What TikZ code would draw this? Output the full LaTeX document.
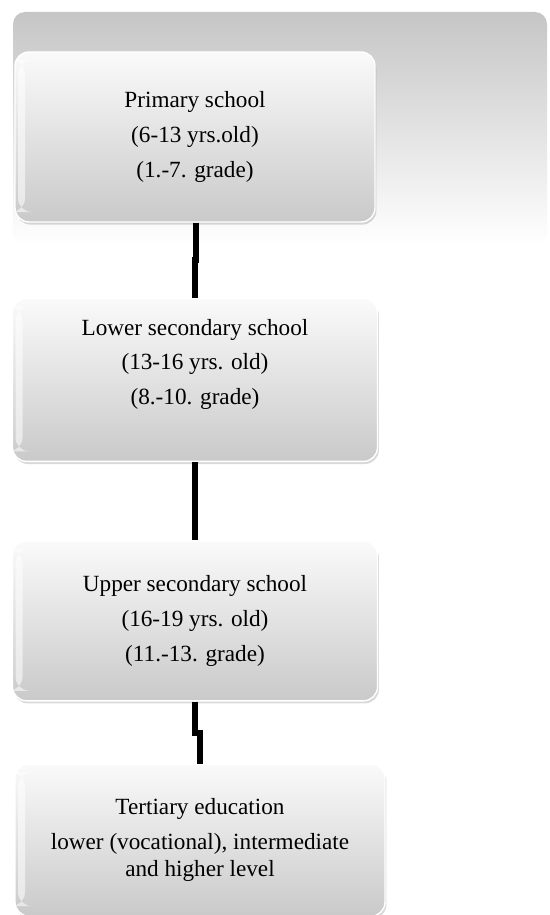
\documentclass[tikz,border=0pt]{standalone}
\usepackage{fontspec}
\setmainfont{Liberation Serif}
\usetikzlibrary{positioning, shadows}

\begin{document}
\begin{tikzpicture}[
    x=0.5pt, y=-0.5pt,
    font=\fontsize{11.6}{13.4}\selectfont,
    stage/.style={rectangle, rounded corners=7pt, align=center,
        draw=white, line width=0.7pt,
        top color=gray!4, bottom color=gray!42,
        drop shadow={shadow xshift=0.7pt, shadow yshift=-1.3pt, opacity=0.3},
        path picture={\shade [left color=white, right color=white, middle color=white, opacity=0.55]
            ([xshift=1.5pt, yshift=-4pt]path picture bounding box.north west)
            rectangle ([xshift=5pt, yshift=5pt]path picture bounding box.south west);},
        minimum width=182.5pt, inner sep=4pt},
    link/.style={line width=3pt, black}
]
    \useasboundingbox (0,0) rectangle (550,915);

    % background panel
    \shade [rounded corners=6pt, top color=gray!45, bottom color=white]
        (13,12) rectangle (547,245);

    \node [stage, minimum width=180pt, minimum height=85pt] (primary) at (195,137)
        {Primary school\\[4pt](6-13 yrs.old)\\[4pt](1.-7. grade)};
    \node [stage, minimum height=81.5pt, text depth=18pt] (lowersec) [below=37.5pt of primary]
        {Lower secondary school\\[4pt](13-16 yrs. old)\\[4pt](8.-10. grade)};
    \node [stage, minimum height=80pt] (uppersec) [below=39pt of lowersec]
        {Upper secondary school\\[4pt](16-19 yrs. old)\\[4pt](11.-13. grade)};
    \node [stage, minimum width=185pt, minimum height=76pt] (tertiary) [below=31pt of uppersec, xshift=2.5pt]
        {Tertiary education\\[4pt]lower (vocational), intermediate\\and higher level};

    \draw [link] ([xshift=0.5pt]primary.south) -- ++(0,-18.5pt) -| (lowersec.north);
    \draw [link] (lowersec) -- (uppersec);
    \draw [link] (uppersec.south) -- ++(0,-15.5pt) -| (tertiary.north);

\end{tikzpicture}
\end{document}
